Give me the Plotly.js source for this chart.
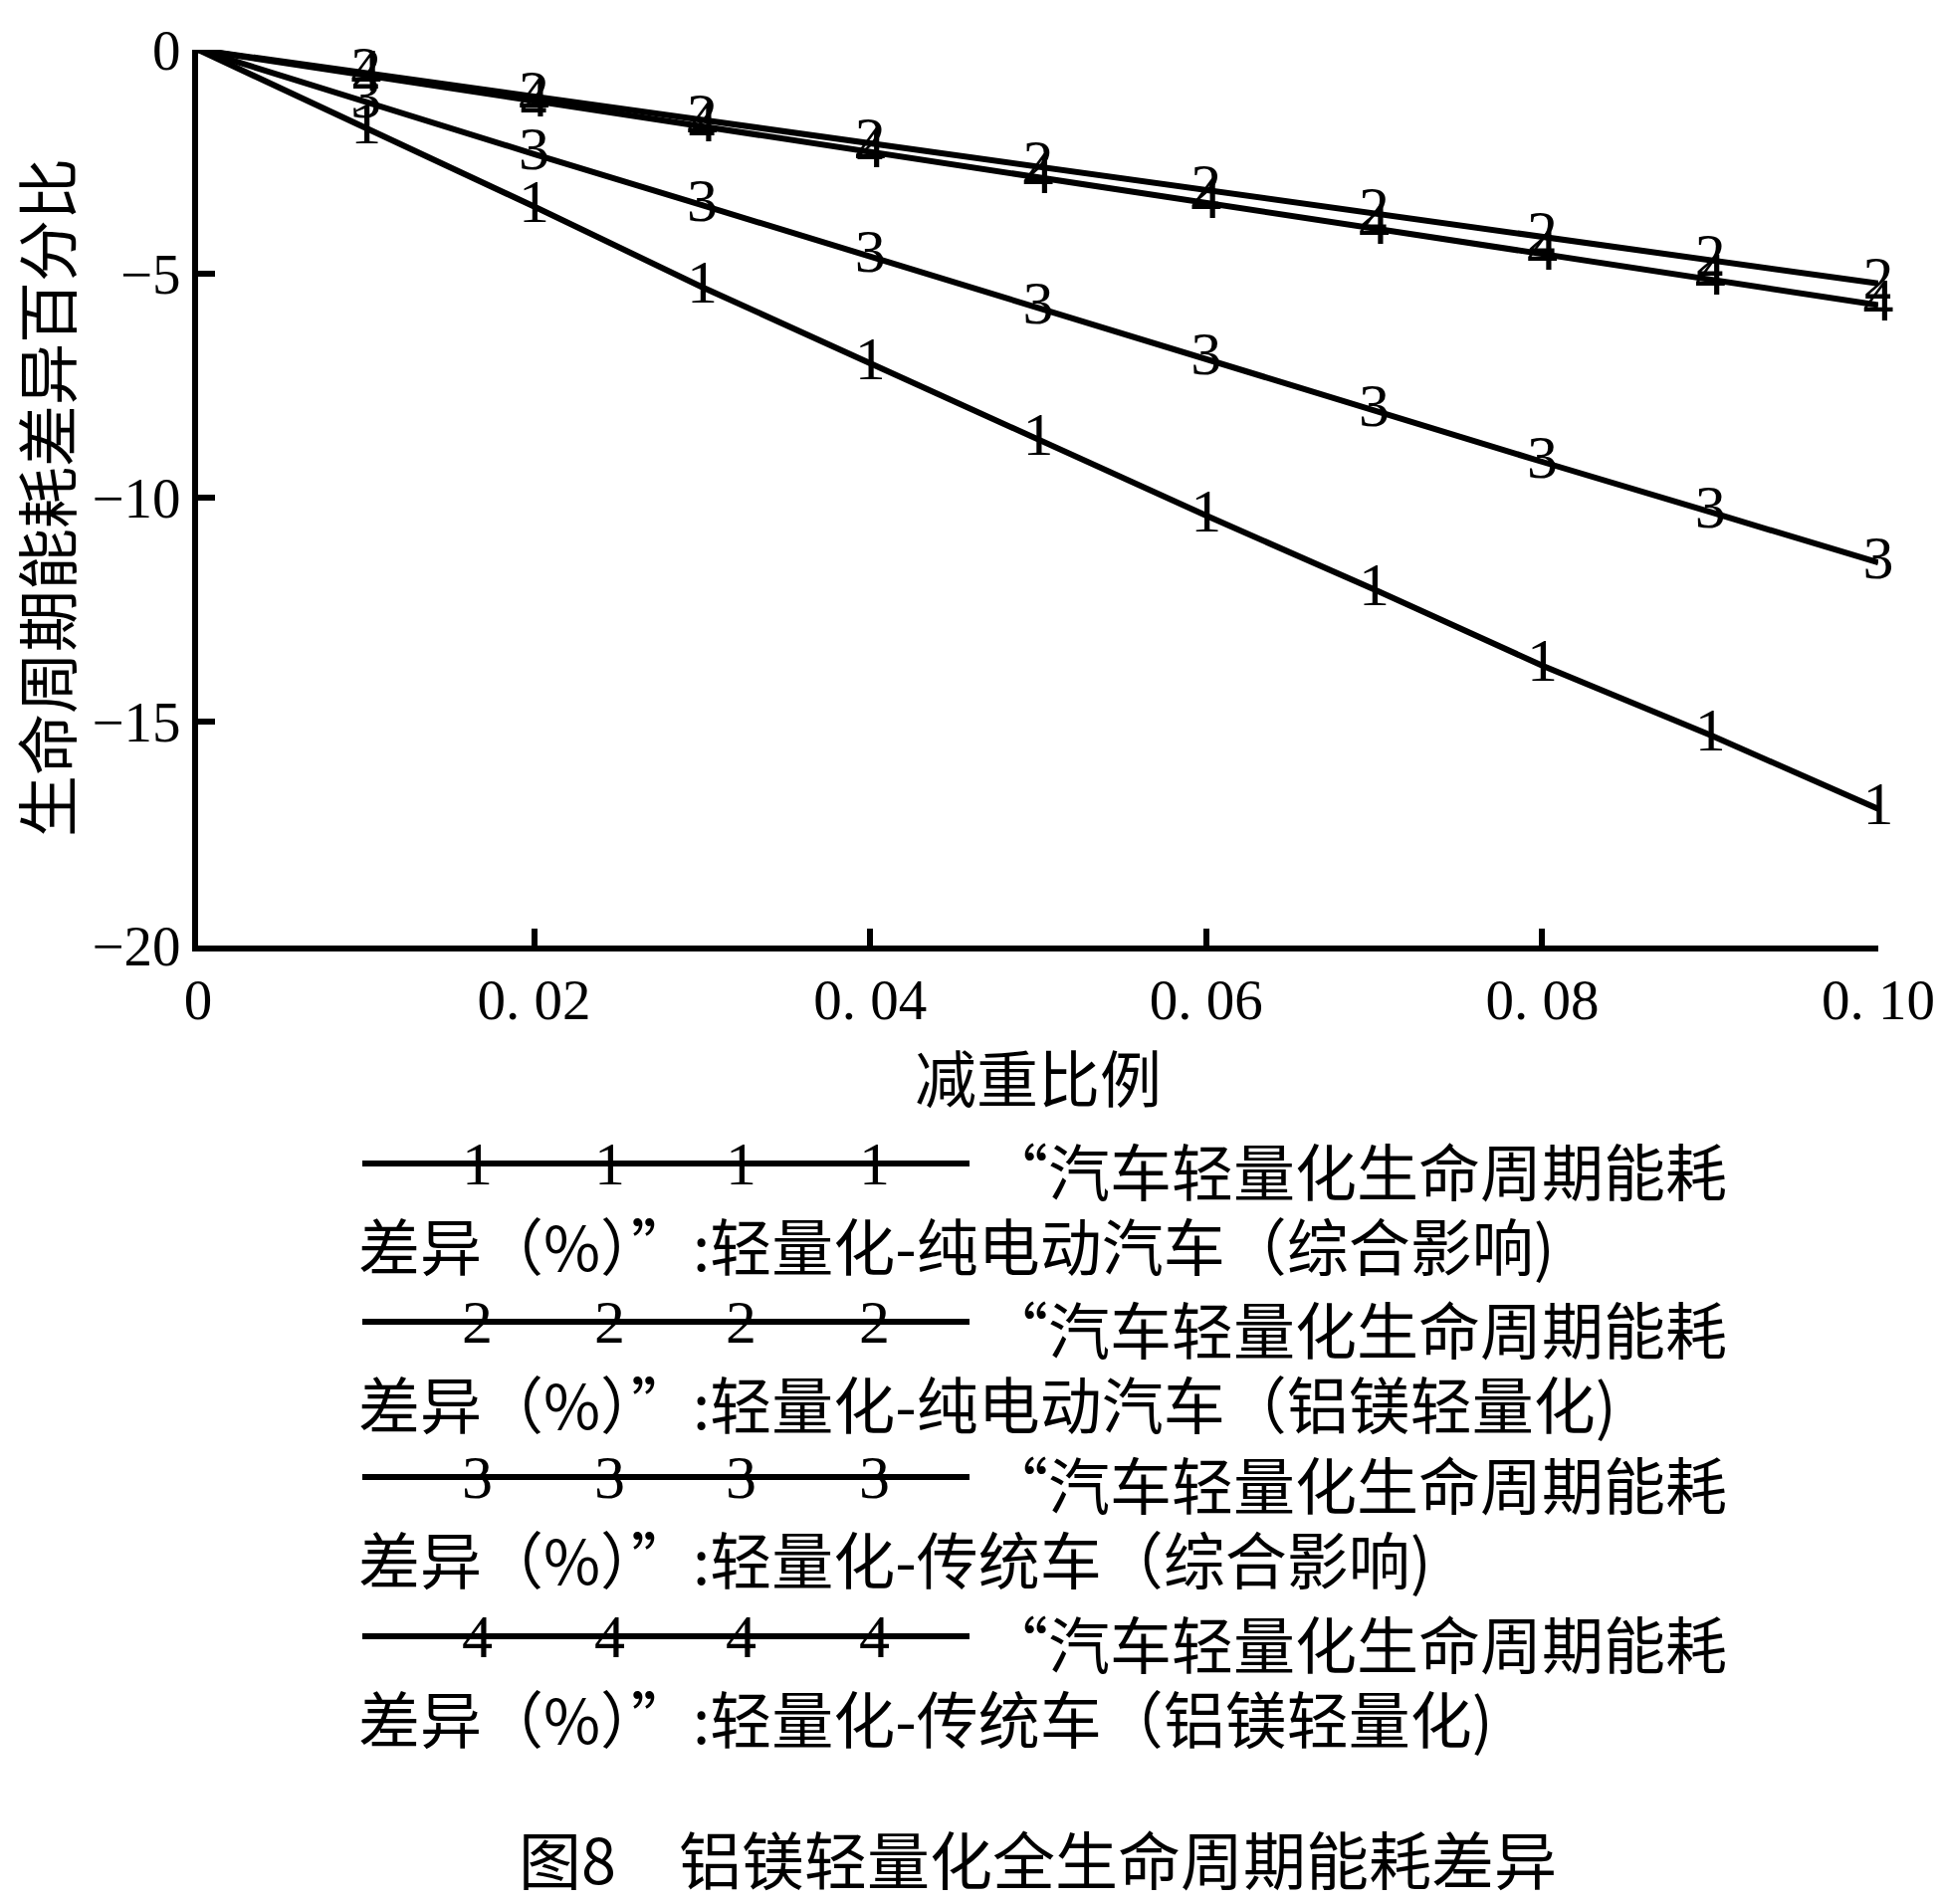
<!DOCTYPE html>
<html>
<head>
<meta charset="utf-8">
<script src="https://cdn.plot.ly/plotly-3.0.1.min.js"></script>
<style>
html,body{margin:0;padding:0;background:#fff;}
#chart{width:1950px;height:1913px;}
</style>
</head>
<body>
<div id="chart"></div>
<script>
// ---- data ----
const reduction = [0, 0.01, 0.02, 0.03, 0.04, 0.05, 0.06, 0.07, 0.08, 0.09, 0.10];
const evTotal    = [0, -1.75, -3.5, -5.3, -7.0, -8.7, -10.4, -12.05, -13.75, -15.3, -16.95];
const evAlMg     = [0, -0.52, -1.05, -1.57, -2.1, -2.62, -3.14, -3.66, -4.18, -4.7, -5.22];
const iceTotal   = [0, -1.17, -2.33, -3.47, -4.62, -5.76, -6.9, -8.05, -9.2, -10.32, -11.45];
const iceAlMg    = [0, -0.57, -1.14, -1.71, -2.28, -2.85, -3.42, -3.99, -4.56, -5.13, -5.7];
const seriesIds  = ['1', '2', '3', '4'];
const seriesNames = [
  '“汽车轻量化生命周期能耗差异（%）”:轻量化-纯电动汽车（综合影响)',
  '“汽车轻量化生命周期能耗差异（%）”:轻量化-纯电动汽车（铝镁轻量化)',
  '“汽车轻量化生命周期能耗差异（%）”:轻量化-传统车（综合影响)',
  '“汽车轻量化生命周期能耗差异（%）”:轻量化-传统车（铝镁轻量化)'
];
const xTickVals = [0, 0.02, 0.04, 0.06, 0.08, 0.10];
const xTickText = ['0', '0. 02', '0. 04', '0. 06', '0. 08', '0. 10'];
const yTickVals = [0, -5, -10, -15, -20];
const yTickText = ['0', '−5', '−10', '−15', '−20'];
const xTitle = '减重比例';
const yTitle = '生命周期能耗差异百分比';
const caption = '图8　铝镁轻量化全生命周期能耗差异';

// ---- layout geometry ----
const W = 1950, H = 1913;
const L = 199, R = 1887, T = 50, B = 950;
const px = X => (X - L) / (R - L);
const py = Y => (B - Y) / (B - T);

const digitFont = {family: 'Liberation Serif, serif', size: 62, color: '#000'};
const cjkFont = {family: 'Noto Sans CJK SC, sans-serif', size: 62, color: '#000'};

const allSeries = [evTotal, evAlMg, iceTotal, iceAlMg];
const traces = allSeries.map((ys, i) => ({
  type: 'scatter',
  mode: 'lines+text',
  x: reduction,
  y: ys,
  name: seriesNames[i],
  text: reduction.map((v, j) => j === 0 ? '' : seriesIds[i]),
  textposition: 'middle center',
  textfont: digitFont,
  cliponaxis: false,
  line: {color: '#000', width: 6},
  showlegend: false,
  hoverinfo: 'x+y+name'
}));

// ---- custom legend (long sample lines with digit markers, wrapped text) ----
const shapes = [];
const annotations = [];
const rowLineY = [1169, 1328, 1484, 1644];
const sampleDigitX = [479, 612, 744, 878];
seriesIds.forEach((id, i) => {
  const y0 = rowLineY[i];
  shapes.push({type: 'line', xref: 'paper', yref: 'paper',
    x0: px(364), x1: px(974), y0: py(y0), y1: py(y0),
    line: {color: '#000', width: 6}});
  sampleDigitX.forEach(dx => annotations.push({
    xref: 'paper', yref: 'paper', x: px(dx), y: py(y0),
    xanchor: 'center', yanchor: 'middle', showarrow: false,
    text: id, font: digitFont}));
  const name = seriesNames[i];
  const cut = name.indexOf('耗') + 1;
  annotations.push({xref: 'paper', yref: 'paper', x: px(989), y: py(y0 + 6),
    xanchor: 'left', yanchor: 'middle', showarrow: false,
    text: name.slice(0, cut), font: cjkFont});
  annotations.push({xref: 'paper', yref: 'paper', x: px(358), y: py(y0 + 81),
    xanchor: 'left', yanchor: 'middle', showarrow: false,
    text: name.slice(cut), font: cjkFont});
});
annotations.push({xref: 'paper', yref: 'paper', x: px(1042), y: py(1865),
  xanchor: 'center', yanchor: 'middle', showarrow: false,
  text: caption, font: {family: 'Noto Sans CJK SC, sans-serif', size: 63, color: '#000'}});

const axisCommon = {
  showline: true, linecolor: '#000', linewidth: 6,
  ticks: 'inside', ticklen: 17, tickwidth: 6, tickcolor: '#000',
  showgrid: false, zeroline: false, mirror: false,
  tickfont: {family: 'Liberation Serif, serif', size: 57, color: '#000'},
  tickmode: 'array', fixedrange: true
};

const layout = {
  width: W, height: H,
  margin: {l: L, r: W - R, t: T, b: H - B, pad: 0},
  paper_bgcolor: '#fff', plot_bgcolor: '#fff',
  showlegend: false,
  xaxis: Object.assign({}, axisCommon, {
    range: [0, 0.10], tickvals: xTickVals, ticktext: xTickText,
    ticklabelstandoff: 0,
    title: {text: xTitle, font: cjkFont, standoff: 0}
  }),
  yaxis: Object.assign({}, axisCommon, {
    range: [-20, 0], tickvals: yTickVals, ticktext: yTickText,
    title: {text: yTitle, font: cjkFont, standoff: 18}
  }),
  shapes: shapes,
  annotations: annotations
};

Plotly.newPlot('chart', traces, layout, {staticPlot: true, displayModeBar: false});
</script>
</body>
</html>
